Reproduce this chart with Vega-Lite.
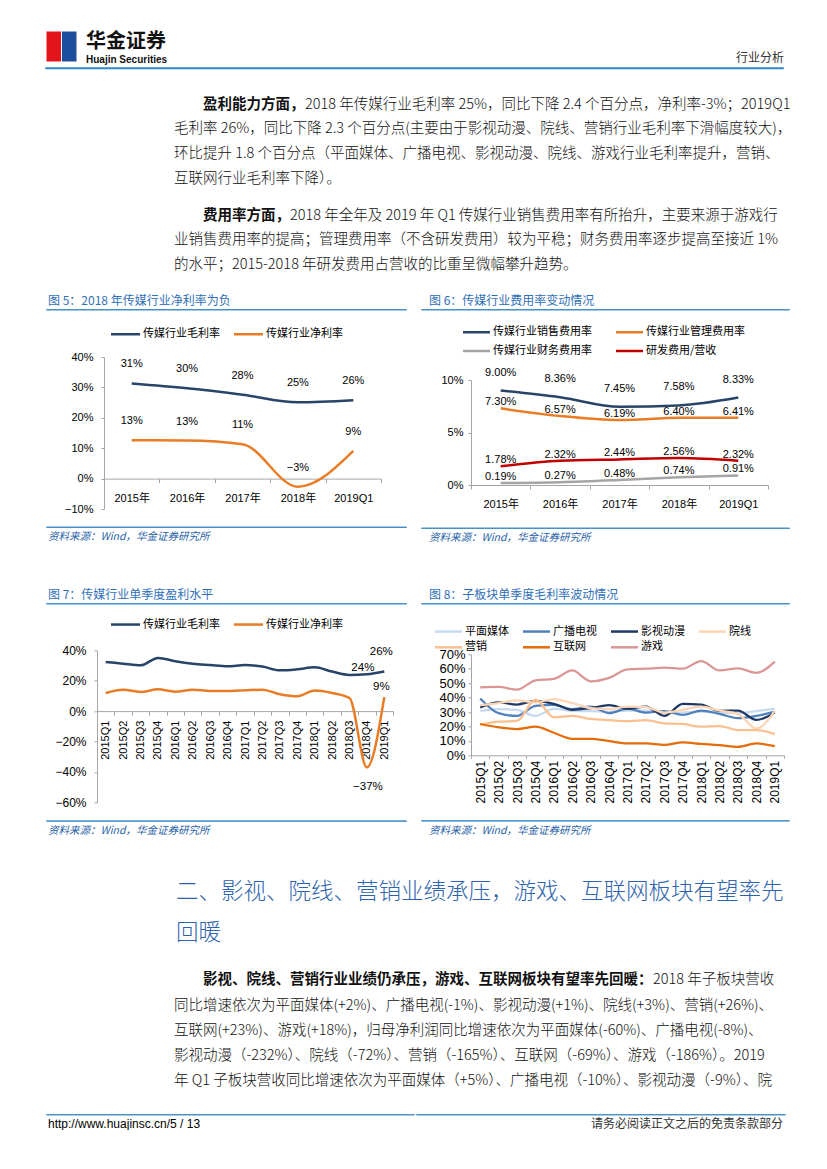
{
  "$schema": "https://vega.github.io/schema/vega-lite/v6.json",
  "background": "white",
  "padding": {"left": 45, "top": 30, "right": 0, "bottom": 0},
  "config": {
    "view": {"stroke": null},
    "font": "Liberation Sans, Noto Sans CJK SC",
    "concat": {"spacing": 0},
    "title": {"anchor": "start", "offset": 0, "fontWeight": "normal", "limit": 2000, "subtitleFontWeight": "normal"},
    "axis": {"domainColor": "#a6a6a6", "tickColor": "#a6a6a6", "labelColor": "#000000", "labelFontSize": 11, "labelFont": "Liberation Sans, Noto Sans CJK SC", "grid": false, "tickSize": 3, "domainWidth": 1},
    "legend": {"labelFont": "Noto Sans CJK SC", "labelFontSize": 11, "labelColor": "#000000", "symbolStrokeWidth": 2.5, "symbolSize": 64, "direction": "horizontal", "labelLimit": 200},
    "text": {"font": "Liberation Sans, Noto Sans CJK SC"}
  },
  "resolve": {"scale": {"color": "independent"}, "legend": {"color": "independent"}},
  "datasets": {
    "f5": [
      {"year": "2015年", "s": "传媒行业毛利率", "v": 0.313},
      {"year": "2016年", "s": "传媒行业毛利率", "v": 0.297},
      {"year": "2017年", "s": "传媒行业毛利率", "v": 0.276},
      {"year": "2018年", "s": "传媒行业毛利率", "v": 0.251},
      {"year": "2019Q1", "s": "传媒行业毛利率", "v": 0.258},
      {"year": "2015年", "s": "传媒行业净利率", "v": 0.126},
      {"year": "2016年", "s": "传媒行业净利率", "v": 0.125},
      {"year": "2017年", "s": "传媒行业净利率", "v": 0.113},
      {"year": "2018年", "s": "传媒行业净利率", "v": -0.027},
      {"year": "2019Q1", "s": "传媒行业净利率", "v": 0.091}
    ],
    "f6": [
      {"year": "2015年", "s": "传媒行业销售费用率", "v": 0.09},
      {"year": "2016年", "s": "传媒行业销售费用率", "v": 0.0836},
      {"year": "2017年", "s": "传媒行业销售费用率", "v": 0.0745},
      {"year": "2018年", "s": "传媒行业销售费用率", "v": 0.0758},
      {"year": "2019Q1", "s": "传媒行业销售费用率", "v": 0.0833},
      {"year": "2015年", "s": "传媒行业管理费用率", "v": 0.073},
      {"year": "2016年", "s": "传媒行业管理费用率", "v": 0.0657},
      {"year": "2017年", "s": "传媒行业管理费用率", "v": 0.0619},
      {"year": "2018年", "s": "传媒行业管理费用率", "v": 0.064},
      {"year": "2019Q1", "s": "传媒行业管理费用率", "v": 0.0641},
      {"year": "2015年", "s": "传媒行业财务费用率", "v": 0.0019},
      {"year": "2016年", "s": "传媒行业财务费用率", "v": 0.0027},
      {"year": "2017年", "s": "传媒行业财务费用率", "v": 0.0048},
      {"year": "2018年", "s": "传媒行业财务费用率", "v": 0.0074},
      {"year": "2019Q1", "s": "传媒行业财务费用率", "v": 0.0091},
      {"year": "2015年", "s": "研发费用/营收", "v": 0.0178},
      {"year": "2016年", "s": "研发费用/营收", "v": 0.0232},
      {"year": "2017年", "s": "研发费用/营收", "v": 0.0244},
      {"year": "2018年", "s": "研发费用/营收", "v": 0.0256},
      {"year": "2019Q1", "s": "研发费用/营收", "v": 0.0232}
    ],
    "f7": [
      {"q": "2015Q1", "传媒行业毛利率": 0.323, "传媒行业净利率": 0.119},
      {"q": "2015Q2", "传媒行业毛利率": 0.312, "传媒行业净利率": 0.141},
      {"q": "2015Q3", "传媒行业毛利率": 0.301, "传媒行业净利率": 0.126},
      {"q": "2015Q4", "传媒行业毛利率": 0.350, "传媒行业净利率": 0.143},
      {"q": "2016Q1", "传媒行业毛利率": 0.328, "传媒行业净利率": 0.128},
      {"q": "2016Q2", "传媒行业毛利率": 0.312, "传媒行业净利率": 0.141},
      {"q": "2016Q3", "传媒行业毛利率": 0.303, "传媒行业净利率": 0.132},
      {"q": "2016Q4", "传媒行业毛利率": 0.295, "传媒行业净利率": 0.132},
      {"q": "2017Q1", "传媒行业毛利率": 0.303, "传媒行业净利率": 0.137},
      {"q": "2017Q2", "传媒行业毛利率": 0.293, "传媒行业净利率": 0.141},
      {"q": "2017Q3", "传媒行业毛利率": 0.268, "传媒行业净利率": 0.111},
      {"q": "2017Q4", "传媒行业毛利率": 0.275, "传媒行业净利率": 0.097},
      {"q": "2018Q1", "传媒行业毛利率": 0.288, "传媒行业净利率": 0.135},
      {"q": "2018Q2", "传媒行业毛利率": 0.260, "传媒行业净利率": 0.119},
      {"q": "2018Q3", "传媒行业毛利率": 0.238, "传媒行业净利率": 0.086},
      {"q": "2018Q4", "传媒行业毛利率": 0.242, "传媒行业净利率": -0.370},
      {"q": "2019Q1", "传媒行业毛利率": 0.260, "传媒行业净利率": 0.092}
    ],
    "f8": [
      {"q": "2015Q1", "平面媒体": 0.308, "广播电视": 0.394, "影视动漫": 0.331, "院线": 0.348, "营销": 0.212, "互联网": 0.217, "游戏": 0.471},
      {"q": "2015Q2", "平面媒体": 0.320, "广播电视": 0.292, "影视动漫": 0.366, "院线": 0.362, "营销": 0.233, "互联网": 0.194, "游戏": 0.474},
      {"q": "2015Q3", "平面媒体": 0.315, "广播电视": 0.273, "影视动漫": 0.352, "院线": 0.380, "营销": 0.238, "互联网": 0.182, "游戏": 0.455},
      {"q": "2015Q4", "平面媒体": 0.273, "广播电视": 0.343, "影视动漫": 0.378, "院线": 0.366, "营销": 0.385, "互联网": 0.198, "游戏": 0.520},
      {"q": "2016Q1", "平面媒体": 0.322, "广播电视": 0.350, "影视动漫": 0.357, "院线": 0.390, "营销": 0.264, "互联网": 0.156, "游戏": 0.530},
      {"q": "2016Q2", "平面媒体": 0.308, "广播电视": 0.320, "影视动漫": 0.315, "院线": 0.362, "营销": 0.273, "互联网": 0.114, "游戏": 0.588},
      {"q": "2016Q3", "平面媒体": 0.306, "广播电视": 0.338, "影视动漫": 0.327, "院线": 0.327, "营销": 0.252, "互联网": 0.114, "游戏": 0.513},
      {"q": "2016Q4", "平面媒体": 0.301, "广播电视": 0.292, "影视动漫": 0.348, "院线": 0.320, "营销": 0.243, "互联网": 0.098, "游戏": 0.537},
      {"q": "2017Q1", "平面媒体": 0.310, "广播电视": 0.324, "影视动漫": 0.322, "院线": 0.338, "营销": 0.236, "互联网": 0.082, "游戏": 0.595},
      {"q": "2017Q2", "平面媒体": 0.310, "广播电视": 0.296, "影视动漫": 0.338, "院线": 0.334, "营销": 0.243, "互联网": 0.082, "游戏": 0.600},
      {"q": "2017Q3", "平面媒体": 0.292, "广播电视": 0.306, "影视动漫": 0.273, "院线": 0.296, "营销": 0.222, "互联网": 0.072, "游戏": 0.607},
      {"q": "2017Q4", "平面媒体": 0.296, "广播电视": 0.280, "影视动漫": 0.357, "院线": 0.315, "营销": 0.217, "互联网": 0.089, "游戏": 0.600},
      {"q": "2018Q1", "平面媒体": 0.303, "广播电视": 0.310, "影视动漫": 0.352, "院线": 0.338, "营销": 0.198, "互联网": 0.079, "游戏": 0.653},
      {"q": "2018Q2", "平面媒体": 0.296, "广播电视": 0.287, "影视动漫": 0.308, "院线": 0.310, "营销": 0.203, "互联网": 0.070, "游戏": 0.588},
      {"q": "2018Q3", "平面媒体": 0.292, "广播电视": 0.257, "影视动漫": 0.310, "院线": 0.287, "营销": 0.175, "互联网": 0.058, "游戏": 0.602},
      {"q": "2018Q4", "平面媒体": 0.306, "广播电视": 0.273, "影视动漫": 0.245, "院线": 0.185, "营销": 0.175, "互联网": 0.082, "游戏": 0.572},
      {"q": "2019Q1", "平面媒体": 0.324, "广播电视": 0.303, "影视动漫": 0.296, "院线": 0.308, "营销": 0.147, "互联网": 0.063, "游戏": 0.649}
    ]
  },
  "columns": 1,
  "align": "none",
  "spacing": 0,
  "concat": [
    {
      "columns": 1, "align": "none", "spacing": 2,
      "resolve": {"scale": {"color": "independent"}, "legend": {"color": "independent"}},
      "concat": [
        {
          "columns": 3, "align": "none", "spacing": 8,
          "resolve": {"scale": {"color": "independent"}, "legend": {"color": "independent"}},
          "concat": [
            {
              "width": 31, "height": 31,
              "data": {"values": [{"half": "左"}, {"half": "右"}]},
              "mark": {"type": "rect", "stroke": "white", "strokeWidth": 1},
              "encoding": {
                "x": {"field": "half", "type": "nominal", "sort": null, "scale": {"type": "band", "paddingInner": 0, "paddingOuter": 0}, "axis": null},
                "color": {"field": "half", "type": "nominal", "sort": null, "scale": {"domain": ["左", "右"], "range": ["#e3141c", "#1c4e9d"]}, "legend": null}
              }
            },
            {
              "columns": 1, "align": "none", "spacing": 2,
              "concat": [
                {
                  "width": 92, "height": 0.5,
                  "data": {"values": []}, "mark": "point",
                  "title": {"text": "华金证券", "orient": "bottom", "font": "Noto Sans CJK SC", "fontSize": 20, "fontWeight": "bold", "color": "#111111", "offset": 0}
                },
                {
                  "width": 92, "height": 0.5,
                  "data": {"values": []}, "mark": "point",
                  "title": {"text": "Huajin Securities", "orient": "bottom", "font": "Liberation Sans", "fontSize": 10, "fontWeight": "bold", "color": "#111111", "offset": 0}
                }
              ]
            },
            {
              "width": 598, "height": 22,
              "data": {"values": []}, "mark": "point",
              "title": {"text": "行业分析", "orient": "bottom", "anchor": "end", "font": "Noto Sans CJK SC", "fontSize": 12, "color": "#333333", "offset": 0}
            }
          ]
        },
        {
          "width": 737, "height": 0.5,
          "view": {"stroke": "#2f87c5", "strokeWidth": 1.5},
          "data": {"values": []}, "mark": "point"
        }
      ]
    },
    {"width": 10, "height": 26, "data": {"values": []}, "mark": "point"},
    {
      "columns": 1, "align": "none", "spacing": 7.5,
      "concat": [
        {
          "columns": 2, "align": "none", "spacing": 0,
          "concat": [
            {
              "width": 1, "height": 0.5, "data": {"values": []}, "mark": "point",
              "title": {"text": "盈利能力方面，", "font": "Noto Sans CJK SC", "fontSize": 14.5, "fontWeight": "bold", "color": "#111111", "dx": 157, "offset": 0}
            },
            {
              "width": 1, "height": 0.5, "data": {"values": []}, "mark": "point",
              "title": {"text": "2018 年传媒行业毛利率 25%，同比下降 2.4 个百分点，净利率-3%；2019Q1", "font": "Liberation Sans Narrow, Noto Sans CJK SC", "fontSize": 14.5, "fontWeight": 300, "color": "#111111", "offset": 0}
            }
          ]
        },
        {
          "width": 613, "height": 20,
          "data": {"values": []}, "mark": "point",
          "title": {
            "text": [
              "毛利率 26%，同比下降 2.3 个百分点(主要由于影视动漫、院线、营销行业毛利率下滑幅度较大)，",
              "环比提升 1.8 个百分点（平面媒体、广播电视、影视动漫、院线、游戏行业毛利率提升，营销、",
              "互联网行业毛利率下降）。"
            ],
            "font": "Liberation Sans Narrow, Noto Sans CJK SC", "fontSize": 14.5, "fontWeight": 300, "color": "#111111",
            "lineHeight": 25, "dx": 128, "offset": 0
          }
        }
      ]
    },
    {
      "columns": 1, "align": "none", "spacing": 7.5,
      "concat": [
        {
          "columns": 2, "align": "none", "spacing": 0,
          "concat": [
            {
              "width": 1, "height": 0.5, "data": {"values": []}, "mark": "point",
              "title": {"text": "费用率方面，", "font": "Noto Sans CJK SC", "fontSize": 14.5, "fontWeight": "bold", "color": "#111111", "dx": 157, "offset": 0}
            },
            {
              "width": 1, "height": 0.5, "data": {"values": []}, "mark": "point",
              "title": {"text": "2018 年全年及 2019 年 Q1 传媒行业销售费用率有所抬升，主要来源于游戏行", "font": "Liberation Sans Narrow, Noto Sans CJK SC", "fontSize": 14.5, "fontWeight": 300, "color": "#111111", "offset": 0}
            }
          ]
        },
        {
          "width": 613, "height": 21,
          "data": {"values": []}, "mark": "point",
          "title": {
            "text": [
              "业销售费用率的提高；管理费用率（不含研发费用）较为平稳；财务费用率逐步提高至接近 1%",
              "的水平；2015-2018 年研发费用占营收的比重呈微幅攀升趋势。"
            ],
            "font": "Liberation Sans Narrow, Noto Sans CJK SC", "fontSize": 14.5, "fontWeight": 300, "color": "#111111",
            "lineHeight": 25, "dx": 128, "offset": 0
          }
        }
      ]
    },
    {
      "columns": 2, "align": "none", "spacing": 13,
      "resolve": {"scale": {"color": "independent"}, "legend": {"color": "independent"}},
      "concat": [
        {
          "columns": 1, "align": "none", "spacing": 18,
          "resolve": {"scale": {"color": "independent"}, "legend": {"color": "independent"}},
          "concat": [
            {
              "width": 360, "height": 0.5,
              "view": {"stroke": "#4a90c8", "strokeWidth": 1},
              "data": {"values": []}, "mark": "point",
              "title": {"text": "图 5：2018 年传媒行业净利率为负", "font": "Noto Sans CJK SC", "fontSize": 12, "color": "#2f6fb8", "offset": 1, "dx": 2}
            },
            {
              "columns": 1, "align": "none", "spacing": 11.5,
              "resolve": {"scale": {"color": "independent"}, "legend": {"color": "independent"}},
              "concat": [
                {
                  "columns": 2, "align": "none", "spacing": 0,
                  "resolve": {"scale": {"color": "independent"}, "legend": {"color": "independent"}},
                  "concat": [
                    {"width": 1, "height": 1, "data": {"values": []}, "mark": "point"},
                    {
                      "width": 277, "height": 152,
                      "data": {"name": "f5"},
                      "encoding": {
                        "x": {"field": "year", "type": "ordinal", "sort": null, "title": null,
                          "scale": {"type": "band", "paddingInner": 0, "paddingOuter": 0},
                          "axis": {"offset": -30.4, "tickBand": "extent", "labelAngle": 0, "tickSize": 4, "labelPadding": 9.5}},
                        "y": {"field": "v", "type": "quantitative", "title": null,
                          "scale": {"domain": [-0.1, 0.4], "nice": false},
                          "axis": {"values": [-0.1, 0, 0.1, 0.2, 0.3, 0.4], "format": ".0%", "minExtent": 57, "labelPadding": 8}}
                      },
                      "layer": [
                        {
                          "mark": {"type": "line", "interpolate": "monotone", "strokeWidth": 2.5},
                          "encoding": {
                            "color": {"field": "s", "type": "nominal", "title": null,
                              "scale": {"domain": ["传媒行业毛利率", "传媒行业净利率"], "range": ["#284466", "#e97c25"]},
                              "legend": {"title": null, "orient": "none", "legendX": 7, "legendY": -28.5, "columns": 2, "columnPadding": 9, "symbolType": "M-3.625,0H3.625", "symbolOffset": 9, "labelOffset": 12}}
                          }
                        },
                        {
                          "mark": {"type": "text", "dy": -19, "fontSize": 11, "fill": "#000000"},
                          "encoding": {"text": {"field": "v", "type": "quantitative", "format": ".0%"}}
                        }
                      ]
                    }
                  ]
                },
                {
                  "width": 360, "height": 0.5,
                  "view": {"stroke": "#4a90c8", "strokeWidth": 1},
                  "data": {"values": []}, "mark": "point",
                  "title": {"text": "资料来源：Wind，华金证券研究所", "orient": "bottom", "font": "Noto Sans CJK SC", "fontSize": 10.5, "fontStyle": "italic", "color": "#1f5fa8", "offset": 5, "dx": 2}
                }
              ]
            }
          ]
        },
        {
          "columns": 1, "align": "none", "spacing": 16,
          "resolve": {"scale": {"color": "independent"}, "legend": {"color": "independent"}},
          "concat": [
            {
              "width": 368, "height": 0.5,
              "view": {"stroke": "#4a90c8", "strokeWidth": 1},
              "data": {"values": []}, "mark": "point",
              "title": {"text": "图 6：传媒行业费用率变动情况", "font": "Noto Sans CJK SC", "fontSize": 12, "color": "#2f6fb8", "offset": 1, "dx": 8}
            },
            {
              "columns": 1, "align": "none", "spacing": 17.5,
              "resolve": {"scale": {"color": "independent"}, "legend": {"color": "independent"}},
              "concat": [
                {
                  "columns": 2, "align": "none", "spacing": 0,
                  "resolve": {"scale": {"color": "independent"}, "legend": {"color": "independent"}},
                  "concat": [
                    {"width": 1, "height": 1, "data": {"values": []}, "mark": "point"},
                    {
                      "width": 297, "height": 105,
                      "data": {"name": "f6"},
                      "encoding": {
                        "x": {"field": "year", "type": "ordinal", "sort": null, "title": null,
                          "scale": {"type": "band", "paddingInner": 0, "paddingOuter": 0},
                          "axis": {"tickBand": "extent", "labelAngle": 0, "tickSize": 4, "labelPadding": 9}},
                        "y": {"field": "v", "type": "quantitative", "title": null,
                          "scale": {"domain": [0, 0.1], "nice": false},
                          "axis": {"values": [0, 0.05, 0.1], "format": ".0%", "minExtent": 49, "labelPadding": 5}}
                      },
                      "layer": [
                        {
                          "mark": {"type": "line", "interpolate": "monotone", "strokeWidth": 2.5},
                          "encoding": {
                            "color": {"field": "s", "type": "nominal", "title": null,
                              "scale": {"domain": ["传媒行业销售费用率", "传媒行业管理费用率", "传媒行业财务费用率", "研发费用/营收"], "range": ["#284466", "#e97c25", "#a5a5a5", "#c00000"]},
                              "legend": {"title": null, "orient": "none", "legendX": -8, "legendY": -53.5, "columns": 2, "columnPadding": 19, "rowPadding": 7, "symbolType": "M-3.375,0H3.375", "symbolOffset": 8, "labelOffset": 11}}
                          }
                        },
                        {
                          "transform": [{"filter": "datum.s == '传媒行业销售费用率'"}],
                          "mark": {"type": "text", "dy": -18, "fontSize": 11, "fill": "#000000"},
                          "encoding": {"text": {"field": "v", "type": "quantitative", "format": ".2%"}}
                        },
                        {
                          "transform": [{"filter": "datum.s != '传媒行业销售费用率'"}],
                          "mark": {"type": "text", "dy": -6, "fontSize": 11, "fill": "#000000"},
                          "encoding": {"text": {"field": "v", "type": "quantitative", "format": ".2%"}}
                        }
                      ]
                    }
                  ]
                },
                {
                  "width": 368, "height": 0.5,
                  "view": {"stroke": "#4a90c8", "strokeWidth": 1},
                  "data": {"values": []}, "mark": "point",
                  "title": {"text": "资料来源：Wind，华金证券研究所", "orient": "bottom", "font": "Noto Sans CJK SC", "fontSize": 10.5, "fontStyle": "italic", "color": "#1f5fa8", "offset": 5, "dx": 8}
                }
              ]
            }
          ]
        }
      ]
    },
    {"width": 10, "height": 44, "data": {"values": []}, "mark": "point"},
    {
      "columns": 2, "align": "none", "spacing": 13,
      "resolve": {"scale": {"color": "independent"}, "legend": {"color": "independent"}},
      "concat": [
        {
          "columns": 1, "align": "none", "spacing": 14.3,
          "resolve": {"scale": {"color": "independent"}, "legend": {"color": "independent"}},
          "concat": [
            {
              "width": 360, "height": 0.5,
              "view": {"stroke": "#4a90c8", "strokeWidth": 1},
              "data": {"values": []}, "mark": "point",
              "title": {"text": "图 7：传媒行业单季度盈利水平", "font": "Noto Sans CJK SC", "fontSize": 12, "color": "#2f6fb8", "offset": 1, "dx": 2}
            },
            {
              "columns": 1, "align": "none", "spacing": 11,
              "resolve": {"scale": {"color": "independent"}, "legend": {"color": "independent"}},
              "concat": [
                {
                  "columns": 2, "align": "none", "spacing": 0,
                  "resolve": {"scale": {"color": "independent"}, "legend": {"color": "independent"}},
                  "concat": [
                    {"width": 1, "height": 1, "data": {"values": []}, "mark": "point"},
                    {
                      "width": 296, "height": 152,
                      "data": {"name": "f7"},
                      "transform": [{"fold": ["传媒行业毛利率", "传媒行业净利率"], "as": ["s", "v"]}],
                      "encoding": {
                        "x": {"field": "q", "type": "ordinal", "sort": null, "title": null,
                          "scale": {"type": "band", "paddingInner": 0, "paddingOuter": 0},
                          "axis": {"offset": -91.2, "tickBand": "extent", "labelAngle": -90, "tickSize": 4, "labelPadding": 5}},
                        "y": {"field": "v", "type": "quantitative", "title": null,
                          "scale": {"domain": [-0.6, 0.4], "nice": false},
                          "axis": {"values": [-0.6, -0.4, -0.2, 0, 0.2, 0.4], "format": ".0%", "minExtent": 50, "labelPadding": 8, "labelFontSize": 12}}
                      },
                      "layer": [
                        {
                          "mark": {"type": "line", "interpolate": "monotone", "strokeWidth": 2.5},
                          "encoding": {
                            "color": {"field": "s", "type": "nominal", "title": null,
                              "scale": {"domain": ["传媒行业毛利率", "传媒行业净利率"], "range": ["#284466", "#e97c25"]},
                              "legend": {"title": null, "orient": "none", "legendX": 14, "legendY": -31.5, "columns": 2, "columnPadding": 9, "symbolType": "M-3.625,0H3.625", "symbolOffset": 9, "labelOffset": 12}}
                          }
                        },
                        {
                          "transform": [{"filter": "datum.s == '传媒行业毛利率' && datum.q == '2019Q1'"}],
                          "mark": {"type": "text", "dy": -20, "dx": -3, "fontSize": 11.5, "fill": "#000000"},
                          "encoding": {"text": {"field": "v", "type": "quantitative", "format": ".0%"}}
                        },
                        {
                          "transform": [{"filter": "datum.s == '传媒行业毛利率' && datum.q == '2018Q4'"}],
                          "mark": {"type": "text", "dy": -6, "dx": -4, "fontSize": 11.5, "fill": "#000000"},
                          "encoding": {"text": {"field": "v", "type": "quantitative", "format": ".0%"}}
                        },
                        {
                          "transform": [{"filter": "datum.s == '传媒行业净利率' && datum.q == '2019Q1'"}],
                          "mark": {"type": "text", "dy": -10, "dx": -3, "fontSize": 11.5, "fill": "#000000"},
                          "encoding": {"text": {"field": "v", "type": "quantitative", "format": ".0%"}}
                        },
                        {
                          "transform": [{"filter": "datum.s == '传媒行业净利率' && datum.q == '2018Q4'"}],
                          "mark": {"type": "text", "dy": 20, "dx": 1, "fontSize": 11.5, "fill": "#000000"},
                          "encoding": {"text": {"field": "v", "type": "quantitative", "format": ".0%"}}
                        }
                      ]
                    }
                  ]
                },
                {
                  "width": 360, "height": 0.5,
                  "view": {"stroke": "#4a90c8", "strokeWidth": 1},
                  "data": {"values": []}, "mark": "point",
                  "title": {"text": "资料来源：Wind，华金证券研究所", "orient": "bottom", "font": "Noto Sans CJK SC", "fontSize": 10.5, "fontStyle": "italic", "color": "#1f5fa8", "offset": 5, "dx": 2}
                }
              ]
            }
          ]
        },
        {
          "columns": 1, "align": "none", "spacing": 21.3,
          "resolve": {"scale": {"color": "independent"}, "legend": {"color": "independent"}},
          "concat": [
            {
              "width": 368, "height": 0.5,
              "view": {"stroke": "#4a90c8", "strokeWidth": 1},
              "data": {"values": []}, "mark": "point",
              "title": {"text": "图 8：子板块单季度毛利率波动情况", "font": "Noto Sans CJK SC", "fontSize": 12, "color": "#2f6fb8", "offset": 1, "dx": 8}
            },
            {
              "columns": 1, "align": "none", "spacing": 15.8,
              "resolve": {"scale": {"color": "independent"}, "legend": {"color": "independent"}},
              "concat": [
                {
                  "columns": 2, "align": "none", "spacing": 0,
                  "resolve": {"scale": {"color": "independent"}, "legend": {"color": "independent"}},
                  "concat": [
                    {"width": 1, "height": 1, "data": {"values": []}, "mark": "point"},
                    {
                      "width": 313, "height": 101,
                      "data": {"name": "f8"},
                      "transform": [{"fold": ["平面媒体", "广播电视", "影视动漫", "院线", "营销", "互联网", "游戏"], "as": ["s", "v"]}],
                      "mark": {"type": "line", "interpolate": "monotone", "strokeWidth": 2.25},
                      "encoding": {
                        "x": {"field": "q", "type": "ordinal", "sort": null, "title": null,
                          "scale": {"type": "band", "paddingInner": 0, "paddingOuter": 0},
                          "axis": {"tickBand": "extent", "labelAngle": -90, "tickSize": 3, "labelPadding": 2, "labelFontSize": 12}},
                        "y": {"field": "v", "type": "quantitative", "title": null,
                          "scale": {"domain": [0, 0.7], "nice": false},
                          "axis": {"values": [0, 0.1, 0.2, 0.3, 0.4, 0.5, 0.6, 0.7], "format": ".0%", "minExtent": 49, "labelPadding": 3, "labelFontSize": 13}},
                        "color": {"field": "s", "type": "nominal", "title": null,
                          "scale": {"domain": ["平面媒体", "广播电视", "影视动漫", "院线", "营销", "互联网", "游戏"], "range": ["#c6d9f0", "#4f81bd", "#1f3864", "#fcd5b5", "#fac090", "#e46c0a", "#d99694"]},
                          "legend": {"title": null, "orient": "none", "legendX": -36, "legendY": -28.5, "columns": 4, "columnPadding": 9, "rowPadding": 4, "symbolType": "M-3.375,0H3.375", "symbolOffset": 8, "labelOffset": 11}}
                      }
                    }
                  ]
                },
                {
                  "width": 368, "height": 0.5,
                  "view": {"stroke": "#4a90c8", "strokeWidth": 1},
                  "data": {"values": []}, "mark": "point",
                  "title": {"text": "资料来源：Wind，华金证券研究所", "orient": "bottom", "font": "Noto Sans CJK SC", "fontSize": 10.5, "fontStyle": "italic", "color": "#1f5fa8", "offset": 5, "dx": 8}
                }
              ]
            }
          ]
        }
      ]
    },
    {"width": 10, "height": 44, "data": {"values": []}, "mark": "point"},
    {
      "width": 613, "height": 25.3,
      "data": {"values": []}, "mark": "point",
      "title": {
        "text": ["二、影视、院线、营销业绩承压，游戏、互联网板块有望率先", "回暖"],
        "font": "Noto Sans CJK SC", "fontSize": 22.5, "fontWeight": 300, "lineHeight": 41.3, "color": "#2e64ad", "dx": 130, "offset": 0
      }
    },
    {
      "columns": 1, "align": "none", "spacing": 8.75,
      "concat": [
        {
          "columns": 2, "align": "none", "spacing": 0,
          "concat": [
            {
              "width": 1, "height": 0.5, "data": {"values": []}, "mark": "point",
              "title": {"text": "影视、院线、营销行业业绩仍承压，游戏、互联网板块有望率先回暖：", "font": "Noto Sans CJK SC", "fontSize": 14.5, "fontWeight": "bold", "color": "#111111", "dx": 157, "offset": 0}
            },
            {
              "width": 1, "height": 0.5, "data": {"values": []}, "mark": "point",
              "title": {"text": "2018 年子板块营收", "font": "Liberation Sans Narrow, Noto Sans CJK SC", "fontSize": 14.5, "fontWeight": 300, "color": "#111111", "offset": 0}
            }
          ]
        },
        {
          "width": 613, "height": 23.4,
          "data": {"values": []}, "mark": "point",
          "title": {
            "text": [
              "同比增速依次为平面媒体(+2%)、广播电视(-1%)、影视动漫(+1%)、院线(+3%)、营销(+26%)、",
              "互联网(+23%)、游戏(+18%)，归母净利润同比增速依次为平面媒体(-60%)、广播电视(-8%)、",
              "影视动漫（-232%）、院线（-72%）、营销（-165%）、互联网（-69%）、游戏（-186%）。2019",
              "年 Q1 子板块营收同比增速依次为平面媒体（+5%）、广播电视（-10%）、影视动漫（-9%）、院"
            ],
            "font": "Liberation Sans Narrow, Noto Sans CJK SC", "fontSize": 14.5, "fontWeight": 300, "color": "#111111",
            "lineHeight": 25.25, "dx": 128, "offset": 0
          }
        }
      ]
    },
    {
      "columns": 2, "align": "none", "spacing": 0,
      "concat": [
        {
          "width": 368, "height": 0.5,
          "view": {"stroke": "#4f93c8", "strokeWidth": 1},
          "data": {"values": []}, "mark": "point",
          "title": {"text": "http://www.huajinsc.cn/5 / 13", "orient": "bottom", "anchor": "start", "font": "Liberation Sans", "fontSize": 12, "color": "#000000", "offset": 4, "dx": 2}
        },
        {
          "width": 369, "height": 0.5,
          "view": {"stroke": "#4f93c8", "strokeWidth": 1},
          "data": {"values": []}, "mark": "point",
          "title": {"text": "请务必阅读正文之后的免责条款部分", "orient": "bottom", "anchor": "end", "font": "Noto Sans CJK SC", "fontSize": 12, "color": "#333333", "offset": 4, "dx": -2}
        }
      ]
    }
  ]
}
